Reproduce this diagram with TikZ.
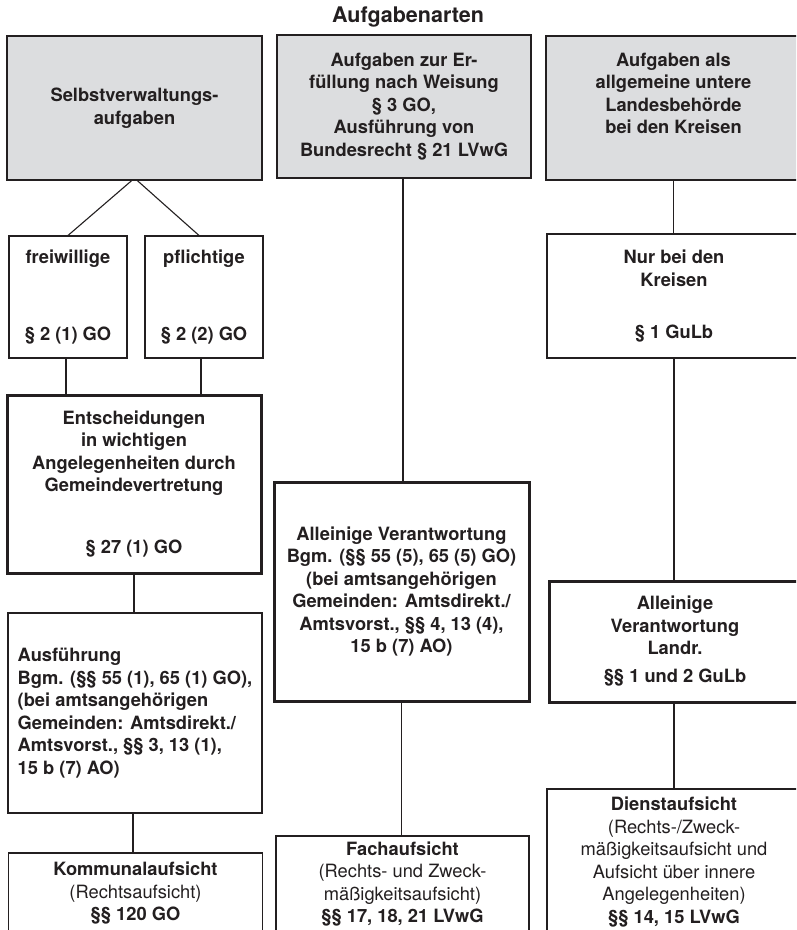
\documentclass[tikz,border=0pt]{standalone}
\usepackage{fontspec}
\setmainfont{TeX Gyre Heros}
\definecolor{boxgray}{HTML}{DCDDDF}
\definecolor{ink}{HTML}{231F20}
\begin{document}
\begin{tikzpicture}[x=1pt,y=-1pt,
  box/.style={draw=ink, line width=1.1pt, align=center, inner sep=0pt, text=ink,
    minimum width=254pt, font=\bfseries\fontsize{18.3}{22.5}\selectfont},
  topbox/.style={box, fill=boxgray, line width=1.5pt},
  thickbox/.style={box, line width=3pt},
  link/.style={draw=ink, line width=1.5pt},
  title/.style={text=ink, inner sep=0pt, font=\bfseries\fontsize{21.5}{26}\selectfont}]
\useasboundingbox (0,0) rectangle (796,930);
\clip (0,0) rectangle (796,930);
\fill[white] (0,0) rectangle (796,930);
\node[title] (t) at (408,17) {Aufgabenarten};
% top row
\node[topbox, minimum width=255pt, minimum height=144pt] (b1) at (134.5,108)
  {Selbstverwaltungs-\\aufgaben};
\node[topbox, minimum height=143pt] (b2) at (404,106.5)
  {Aufgaben zur Er-\\füllung nach Weisung\\§ 3 GO,\\Ausführung von\\Bundesrecht § 21 LVwG};
\node[topbox, minimum width=255pt, minimum height=144pt] (b3) at (673.5,108)
  {Aufgaben als\\allgemeine untere\\Landesbehörde\\bei den Kreisen\\[7pt]};
% left column
\node[box, minimum width=118pt, minimum height=122pt] (fr) at (68,297)
  {freiwillige\\[54.5pt]§ 2 (1) GO};
\node[box, minimum width=118pt, minimum height=122pt] (pf) at (204,297)
  {pflichtige\\[54.5pt]§ 2 (2) GO};
\node[thickbox, minimum height=178pt] (en) at (134,484)
  {Entscheidungen\\in wichtigen\\Angelegenheiten durch\\Gemeindevertretung\\[39.5pt]§ 27 (1) GO};
\node[box, minimum height=200pt, align=left] (au) at (135,713)
  {Ausführung\\Bgm. (§§ 55 (1), 65 (1) GO),\\(bei amtsangehörigen\\Gemeinden: Amtsdirekt./\\Amtsvorst., §§ 3, 13 (1),\\15 b (7) AO)};
\node[box, minimum height=81pt] (ko) at (135.5,893.5)
  {Kommunalaufsicht\\{\mdseries (Rechtsaufsicht)}\\§§ 120 GO};
% middle column
\node[thickbox, minimum width=255pt, minimum height=219pt] (av) at (401.5,591.5)
  {Alleinige Verantwortung\\Bgm. (§§ 55 (5), 65 (5) GO)\\(bei amtsangehörigen\\Gemeinden: Amtsdirekt./\\Amtsvorst., §§ 4, 13 (4),\\15 b (7) AO)};
\node[box, minimum width=253pt, minimum height=96pt] (fa) at (402.5,884)
  {Fachaufsicht\\{\mdseries (Rechts- und Zweck-}\\{\mdseries mäßigkeitsaufsicht)}\\§§ 17, 18, 21 LVwG};
% right column
\node[box, minimum height=124pt] (nk) at (674,296)
  {Nur bei den\\Kreisen\\[29.5pt]§ 1 GuLb};
\node[thickbox, minimum width=252pt, minimum height=121pt] (al) at (675,641.5)
  {Alleinige\\Verantwortung\\Landr.\\[5.5pt]§§ 1 und 2 GuLb};
\node[box, minimum height=146pt] (di) at (674,862)
  {Dienstaufsicht\\{\mdseries (Rechts-/Zweck-}\\{\mdseries mäßigkeitsaufsicht und}\\{\mdseries Aufsicht über innere}\\{\mdseries Angelegenheiten)}\\§§ 14, 15 LVwG};
% connectors
\draw[link, line width=1.1pt] ([xshift=-3pt]b1.south) -- (fr.north);
\draw[link, line width=1.1pt] ([xshift=3pt]b1.south) -- ([xshift=-5pt]pf.north);
\draw[link] ([xshift=-2pt]fr.south) -- ([xshift=-2pt]fr.south |- en.north);
\draw[link] ([xshift=-3pt]pf.south) -- ([xshift=-3pt]pf.south |- en.north);
\draw[link] (en.south) -- (en.south |- au.north);
\draw[link] ([xshift=-2pt]au.south) -- ([xshift=-2pt]au.south |- ko.north);
\draw[link] ([xshift=-1pt]b2.south) -- ([xshift=-1pt]b2.south |- av.north);
\draw[link] (av.south) -- (av.south |- fa.north);
\draw[link] (b3.south) -- (b3.south |- nk.north);
\draw[link] (nk.south) -- (nk.south |- al.north);
\draw[link] (nk.south |- al.south) -- (nk.south |- di.north);
\end{tikzpicture}
\end{document}
